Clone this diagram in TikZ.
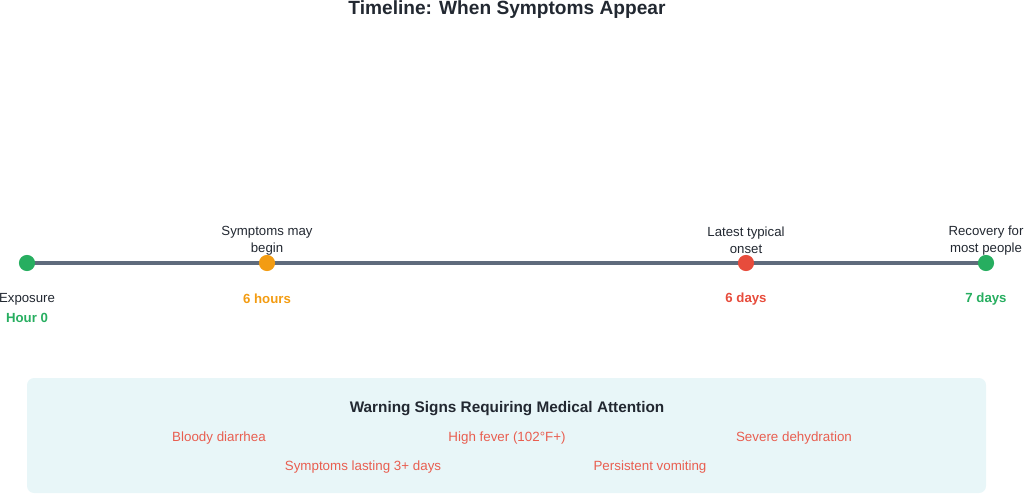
\documentclass[tikz,border=0pt]{standalone}
\usepackage{fontspec}
\setmainfont{Liberation Sans}
\usetikzlibrary{positioning}

\definecolor{okgreen}{HTML}{27AE60}
\definecolor{warnorange}{HTML}{F39C12}
\definecolor{alertred}{HTML}{E74C3C}
\definecolor{axisgray}{HTML}{5F6B7C}
\definecolor{darktext}{HTML}{222831}
\definecolor{boxfill}{HTML}{E8F6F8}

\tikzset{
    dot/.style={circle, fill=#1, minimum size=11.5pt, inner sep=0pt},
    evlabel/.style={font=\fontsize{9.4}{12}\selectfont, text=darktext, align=center, inner sep=1pt},
    timelabel/.style={font=\fontsize{9.4}{11}\selectfont\bfseries, text=#1, inner sep=1pt},
    signlabel/.style={font=\fontsize{9.5}{11}\selectfont, text=alertred!90!white, inner sep=1pt}
}

\begin{document}
\begin{tikzpicture}[x=0.025cm, y=-0.025cm]
        \useasboundingbox (0,0) rectangle (1024,494);
        % title
        \node[font=\fontsize{13.6}{15}\selectfont\bfseries, text=darktext] (title) at (507,10) {Timeline: When Symptoms Appear};

        % timeline
        \draw[axisgray, line width=2.2pt] (27,263) -- (986,263);
        \node[dot=okgreen] (d0) at (27,263) {};
        \node[dot=warnorange] (d1) at (267,263) {};
        \node[dot=alertred] (d2) at (746,263) {};
        \node[dot=okgreen] (d3) at (986,263) {};

        % labels above
        \node[evlabel] (l1) at (267,240.5) {Symptoms may\\begin};
        \node[evlabel] (l2) at (746,240.5) {Latest typical\\onset};
        \node[evlabel] (l3) at (986,240.5) {Recovery for\\most people};

        % labels below
        \node[evlabel] (l0) at (27,299) {Exposure};
        \node[timelabel=okgreen] (t0) at (27,318) {Hour 0};
        \node[timelabel=warnorange] (t1) at (267,299) {6 hours};
        \node[timelabel=alertred] (t2) at (746,299) {6 days};
        \node[timelabel=okgreen] (t3) at (986,299) {7 days};

        % warning box
        \fill[boxfill, rounded corners=5pt] (27,378) rectangle (986,493);
        \node[font=\fontsize{10.9}{12}\selectfont\bfseries, text=darktext] (wtitle) at (507,409) {Warning Signs Requiring Medical Attention};
        \node[signlabel] (s1) at (219,438) {Bloody diarrhea};
        \node[signlabel] (s2) at (507,438) {High fever (102°F+)};
        \node[signlabel] (s3) at (794,438) {Severe dehydration};
        \node[signlabel] (s4) at (363,467) {Symptoms lasting 3+ days};
        \node[signlabel] (s5) at (650,467) {Persistent vomiting};
\end{tikzpicture}
\end{document}
